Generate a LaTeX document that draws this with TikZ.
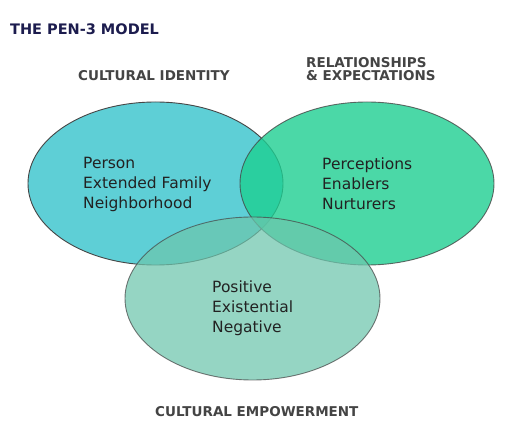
\documentclass[tikz,border=0pt]{standalone}
\usepackage{fontspec}
\setmainfont{DejaVu Sans}
\usetikzlibrary{shapes.geometric}
\definecolor{cleft}{RGB}{94,207,214}
\definecolor{cright}{RGB}{30,207,146}
\definecolor{cbottom}{RGB}{109,198,173}
\definecolor{ctitle}{RGB}{28,28,78}
\definecolor{chead}{RGB}{68,68,68}
\definecolor{ctext}{RGB}{34,34,34}
\definecolor{cline}{RGB}{70,70,70}
\tikzset{
  circ/.style={draw=cline, line width=0.9pt},
  head/.style={font=\bfseries\fontsize{13.5}{13}\selectfont, text=chead, inner sep=0pt, align=left},
  body/.style={font=\fontsize{15.5}{20}\selectfont, text=ctext, inner sep=0pt, align=left, anchor=west},
}
\begin{document}
\begin{tikzpicture}[x=1pt,y=-1pt]
\useasboundingbox (0,0) rectangle (523,438);
\fill[white] (0,0) rectangle (523,438);
\draw[circ, fill=cleft] (155.5,183.5) ellipse [x radius=127.5, y radius=81.5];
\draw[circ, fill=cright, opacity=0.8] (367,183.5) ellipse [x radius=127, y radius=81.5];
\draw[circ, fill=cbottom, opacity=0.72] (252.5,298.5) ellipse [x radius=127.5, y radius=81.5];
\node[anchor=west, font=\bfseries\fontsize{14.5}{14}\selectfont, text=ctitle, inner sep=0pt] (title) at (10,29) {THE PEN-3 MODEL};
\node[head, anchor=west] (ci) at (78,75.5) {CULTURAL IDENTITY};
\node[head, anchor=west] (re) at (306,69) {RELATIONSHIPS\\\& EXPECTATIONS};
\node[head, anchor=west] (ce) at (155,412) {CULTURAL EMPOWERMENT};
\node[body] (l) at (83,184) {Person\\Extended Family\\Neighborhood};
\node[body] (r) at (322,184) {Perceptions\\Enablers\\Nurturers};
\node[body] (b) at (212,308.5) {Positive\\Existential\\Negative};
\end{tikzpicture}
\end{document}
